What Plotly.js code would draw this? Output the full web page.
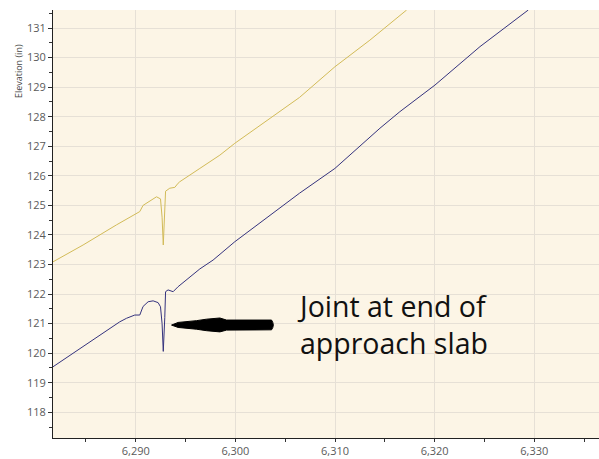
<!DOCTYPE html>
<html>
<head>
<meta charset="utf-8">
<script src="https://cdn.plot.ly/plotly-3.0.1.min.js"></script>
<style>
  html, body { margin: 0; padding: 0; background: #ffffff; }
  #chart { width: 599px; height: 459px; }
</style>
</head>
<body>
<div id="chart"></div>
<script>
// Profile of the upper run (station, elevation in inches)
const upperStation = [6281.69, 6284.71, 6288.06, 6290.40, 6290.73, 6292.08, 6292.48, 6292.64, 6292.76, 6292.91, 6292.99,
  6293.41, 6293.92, 6294.25, 6294.42, 6296.43, 6298.44, 6299.94, 6306.43, 6309.99, 6313.50, 6317.19];
const upperElev = [123.09, 123.66, 124.34, 124.79, 125.00, 125.29, 125.22, 124.60, 123.66, 124.80, 125.48,
  125.58, 125.61, 125.75, 125.80, 126.25, 126.70, 127.10, 128.65, 129.69, 130.59, 131.61];

// Profile of the lower run
const lowerStation = [6281.69, 6284.71, 6288.39, 6289.07, 6289.90, 6290.40, 6290.73, 6291.24, 6291.74, 6292.24, 6292.48,
  6292.64, 6292.76, 6292.91, 6292.99, 6293.24, 6293.75, 6294.25, 6295.09, 6296.43, 6297.76, 6299.94,
  6306.43, 6309.99, 6314.51, 6316.51, 6320.03, 6324.55, 6329.40];
const lowerElev = [119.54, 120.22, 121.06, 121.18, 121.29, 121.29, 121.58, 121.74, 121.77, 121.71, 121.57,
  121.00, 120.06, 121.20, 122.08, 122.14, 122.08, 122.25, 122.47, 122.85, 123.15, 123.77,
  125.41, 126.25, 127.61, 128.17, 129.07, 130.37, 131.61];

const xTickVals = [6290, 6300, 6310, 6320, 6330];
const xTickText = ['6,290', '6,300', '6,310', '6,320', '6,330'];
const yTickVals = [118, 119, 120, 121, 122, 123, 124, 125, 126, 127, 128, 129, 130, 131];

const noteText = 'Joint at end of<br>approach slab';
const yTitle = 'Elevation (in)';

const traces = [
  { x: upperStation, y: upperElev, type: 'scatter', mode: 'lines',
    line: { color: '#d2bb58', width: 1 }, hoverinfo: 'skip' },
  { x: lowerStation, y: lowerElev, type: 'scatter', mode: 'lines',
    line: { color: '#35337e', width: 1 }, hoverinfo: 'skip' }
];

const tickFont = { family: 'Open Sans, sans-serif', size: 11, color: '#5a5a5a' };

const layout = {
  width: 599, height: 459,
  margin: { l: 53, r: 0, t: 10, b: 21, pad: 0 },
  paper_bgcolor: '#ffffff',
  plot_bgcolor: '#fcf5e6',
  showlegend: false,
  xaxis: {
    range: [6281.69, 6336.5],
    tickvals: xTickVals, ticktext: xTickText,
    ticks: 'outside', ticklen: 3, tickcolor: '#333',
    showgrid: true, gridcolor: '#e6e0d6', gridwidth: 1,
    zeroline: false,
    showline: true, linecolor: '#222', linewidth: 1,
    tickfont: tickFont,
    minor: { dtick: 5, tick0: 6285, ticks: 'outside', ticklen: 3, tickcolor: '#333', showgrid: false }
  },
  yaxis: {
    range: [117.13, 131.61],
    tickvals: yTickVals,
    ticks: 'outside', ticklen: 4, tickcolor: '#333',
    showgrid: true, gridcolor: '#e6e0d6', gridwidth: 1,
    zeroline: false,
    showline: true, linecolor: '#222', linewidth: 1,
    tickfont: tickFont,
    minor: { dtick: 0.5, tick0: 117.5, ticks: 'outside', ticklen: 3, tickcolor: '#333', showgrid: false }
  },
  shapes: [
    // hand-drawn pointer towards the joint
    { type: 'path', xref: 'x', yref: 'y',
      path: 'M 6293.59,120.95 L 6294.25,121.04 L 6296.10,121.10 L 6297.10,121.15 L 6298.44,121.19 ' +
            'L 6299.11,121.12 L 6303.63,121.12 Q 6303.98,120.95 6303.63,120.79 L 6299.11,120.78 ' +
            'L 6298.44,120.72 L 6297.10,120.76 L 6296.10,120.81 L 6294.25,120.87 Z',
      fillcolor: '#000000', line: { color: '#000000', width: 1 } }
  ],
  annotations: [
    { text: noteText, xref: 'x', yref: 'y', x: 6306.0, y: 120.97,
      xanchor: 'left', yanchor: 'middle', align: 'left', showarrow: false,
      font: { family: 'Open Sans, sans-serif', size: 28.5, color: '#111111' } },
    { text: yTitle, xref: 'paper', yref: 'paper', x: -0.0635, y: 0.858,
      xanchor: 'center', yanchor: 'middle', textangle: -90, showarrow: false,
      font: { family: 'Open Sans, sans-serif', size: 9, color: '#444444' } }
  ]
};

Plotly.newPlot('chart', traces, layout, { staticPlot: true, displayModeBar: false });
</script>
</body>
</html>
